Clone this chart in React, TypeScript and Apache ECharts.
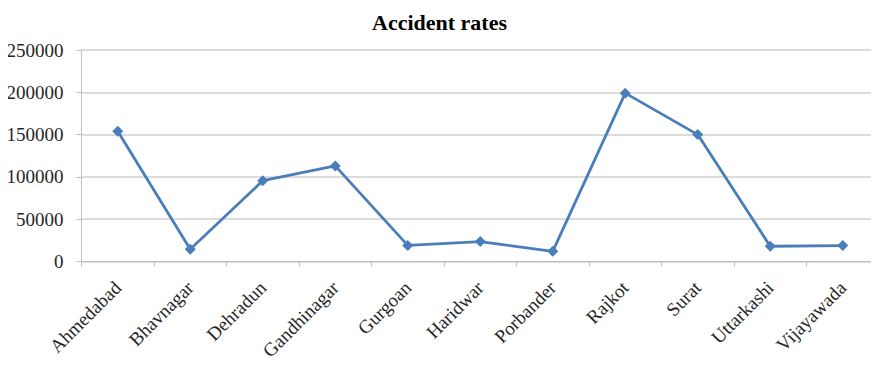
import React, { useEffect, useRef } from "react";
import * as echarts from "echarts";

const categories = [
  "Ahmedabad",
  "Bhavnagar",
  "Dehradun",
  "Gandhinagar",
  "Gurgoan",
  "Haridwar",
  "Porbander",
  "Rajkot",
  "Surat",
  "Uttarkashi",
  "Vijayawada",
];
const accidentRates = [154000, 14500, 95500, 113000, 19000, 23500, 12000, 199000, 150000, 18000, 18800];
const titleText = "Accident rates";

const serif = "'Liberation Serif', 'Times New Roman', serif";

export default function App() {
  const ref = useRef<HTMLDivElement>(null);
  useEffect(() => {
    if (!ref.current) return;
    const chart = echarts.init(ref.current, undefined, { renderer: "svg" });
    chart.setOption({
      animation: false,
      backgroundColor: "#ffffff",
      title: {
        text: titleText,
        left: "center",
        top: 6,
        textStyle: { fontFamily: serif, fontSize: 22, fontWeight: "bold", color: "#000" },
      },
      grid: { left: 81.5, right: -2.5, top: 50, bottom: 103.5, containLabel: false },
      xAxis: {
        type: "category",
        data: categories,
        boundaryGap: true,
        axisLine: { show: true, lineStyle: { color: "#bfbfbf", width: 1 } },
        axisTick: { show: true, length: 5, alignWithLabel: false, lineStyle: { color: "#bfbfbf" } },
        axisLabel: {
          rotate: 45,
          margin: 23,
          interval: 0,
          fontFamily: serif,
          fontSize: 19,
          color: "#262626",
        },
      },
      yAxis: {
        type: "value",
        min: 0,
        max: 250000,
        interval: 50000,
        axisLine: { show: true, lineStyle: { color: "#bfbfbf", width: 1 } },
        axisTick: { show: true, length: 5, lineStyle: { color: "#bfbfbf" } },
        splitLine: { show: true, lineStyle: { color: "#d0d0d0", width: 1.5 } },
        axisLabel: {
          margin: 18,
          fontFamily: serif,
          fontSize: 19,
          color: "#262626",
          formatter: (v: number) => String(v),
        },
      },
      series: [
        {
          type: "line",
          data: accidentRates,
          symbol: "diamond",
          symbolSize: 11,
          lineStyle: { color: "#4a7ebb", width: 2.8 },
          itemStyle: { color: "#4a7ebb" },
        },
      ],
    });
    return () => chart.dispose();
  }, []);
  return <div ref={ref} style={{ width: 879, height: 365, margin: -8 }} />;
}
